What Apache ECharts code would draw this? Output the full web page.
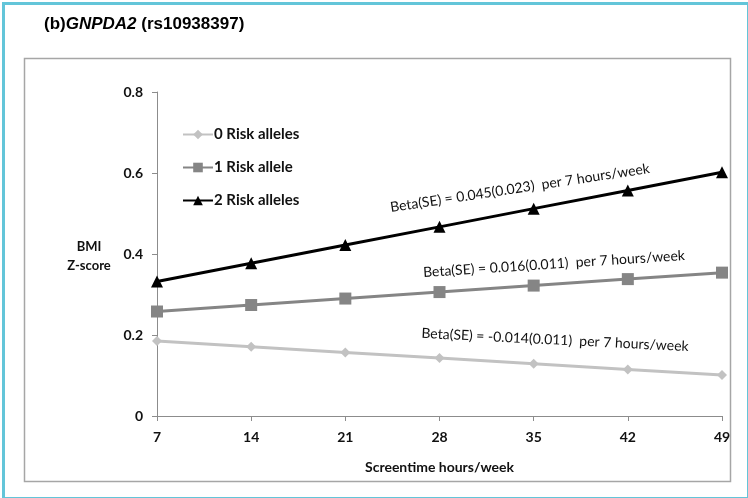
<!DOCTYPE html>
<html>
<head>
<meta charset="utf-8">
<script src="https://cdn.jsdelivr.net/npm/echarts@6/dist/echarts.min.js"></script>
<style>
  html, body { margin: 0; padding: 0; background: #fff; }
  #main { width: 748px; height: 498px; }
</style>
</head>
<body>
<div id="main"></div>
<script>
// screentime hours/week (x)
var hours = [7, 14, 21, 28, 35, 42, 49];
// BMI z-score
var risk0 = [0.185, 0.171, 0.157, 0.143, 0.129, 0.115, 0.101];
var risk1 = [0.258, 0.274, 0.290, 0.306, 0.322, 0.338, 0.354];
var risk2 = [0.332, 0.377, 0.422, 0.467, 0.512, 0.557, 0.602];
var seriesNames = ['0 Risk alleles', '1 Risk allele', '2 Risk alleles'];
var yTicks = [0, 0.2, 0.4, 0.6, 0.8];

function pairs(ys) {
  return hours.map(function (h, i) { return [h, ys[i]]; });
}

var font = 'Lato, "Open Sans", sans-serif';

var chart = echarts.init(document.getElementById('main'));
chart.setOption({
  backgroundColor: '#fff',
  animation: false,
  textStyle: { fontFamily: font },
  grid: { left: 157, right: 26, top: 92, bottom: 82 },
  legend: {
    orient: 'vertical',
    left: 177,
    top: 122,
    itemGap: 18,
    itemWidth: 30,
    itemHeight: 12,
    data: seriesNames,
    textStyle: { fontFamily: font, fontSize: 15, fontWeight: 'bold', color: '#111', padding: [0, 0, 0, -4] }
  },
  xAxis: {
    type: 'value',
    min: 7, max: 49, interval: 7,
    name: 'Screentime hours/week',
    nameLocation: 'middle',
    nameGap: 44,
    nameTextStyle: { fontSize: 14, fontWeight: 'bold', color: '#111', fontFamily: font },
    axisLine: { lineStyle: { color: '#8c8c8c', width: 1 } },
    axisTick: { show: true, length: 5, lineStyle: { color: '#8c8c8c' } },
    axisLabel: { fontSize: 14, fontWeight: 'bold', color: '#111', margin: 14 },
    splitLine: { show: false }
  },
  yAxis: {
    type: 'value',
    min: yTicks[0], max: yTicks[yTicks.length - 1], interval: 0.2,
    axisLine: { show: true, lineStyle: { color: '#8c8c8c', width: 1 } },
    axisTick: { show: true, length: 5, lineStyle: { color: '#8c8c8c' } },
    axisLabel: {
      fontSize: 14, fontWeight: 'bold', color: '#111', margin: 14,
      formatter: function (v) { return v === 0 ? '0' : v.toFixed(1); }
    },
    splitLine: { show: false }
  },
  series: [
    {
      name: seriesNames[0], type: 'line', data: pairs(risk0),
      symbol: 'diamond', symbolSize: 10,
      lineStyle: { color: '#c2c2c2', width: 3 },
      itemStyle: { color: '#c2c2c2' }
    },
    {
      name: seriesNames[1], type: 'line', data: pairs(risk1),
      symbol: 'rect', symbolSize: 12,
      lineStyle: { color: '#858585', width: 3 },
      itemStyle: { color: '#858585' }
    },
    {
      name: seriesNames[2], type: 'line', data: pairs(risk2),
      symbol: 'triangle', symbolSize: 12,
      lineStyle: { color: '#000', width: 3 },
      itemStyle: { color: '#000' }
    }
  ],
  graphic: [
    {
      type: 'rect', left: 1, top: 1, silent: true,
      shape: { width: 745, height: 495 },
      style: { fill: 'none', stroke: '#63c5d9', lineWidth: 3 }
    },
    {
      type: 'rect', left: 22, top: 56, silent: true,
      shape: { width: 706, height: 423 },
      style: { fill: 'none', stroke: '#a6a6a6', lineWidth: 1.5 }
    },
    {
      type: 'text', left: 44, top: 16,
      style: {
        text: '{b|(b)}{i|GNPDA2}{b| (rs10938397)}',
        rich: {
          b: { fontFamily: 'Liberation Sans, Arial, sans-serif', fontSize: 17, fontWeight: 'bold', fill: '#000' },
          i: { fontFamily: 'Liberation Sans, Arial, sans-serif', fontSize: 17, fontWeight: 'bold', fontStyle: 'italic', fill: '#000' }
        }
      }
    },
    {
      type: 'text', x: 89, y: 256,
      style: {
        text: 'BMI\nZ-score', align: 'center', verticalAlign: 'middle',
        font: 'bold 13px ' + font, fill: '#111', lineHeight: 19
      }
    },
    {
      type: 'text', x: 520, y: 188, rotation: 0.15,
      style: {
        text: 'Beta(SE) = 0.045(0.023)  per 7 hours/week', align: 'center', verticalAlign: 'middle',
        font: '14px ' + font, fill: '#111'
      }
    },
    {
      type: 'text', x: 554, y: 264, rotation: 0.065,
      style: {
        text: 'Beta(SE) = 0.016(0.011)  per 7 hours/week', align: 'center', verticalAlign: 'middle',
        font: '14px ' + font, fill: '#111'
      }
    },
    {
      type: 'text', x: 555, y: 340, rotation: -0.05,
      style: {
        text: 'Beta(SE) = -0.014(0.011)  per 7 hours/week', align: 'center', verticalAlign: 'middle',
        font: '14px ' + font, fill: '#111'
      }
    }
  ]
});
</script>
</body>
</html>
